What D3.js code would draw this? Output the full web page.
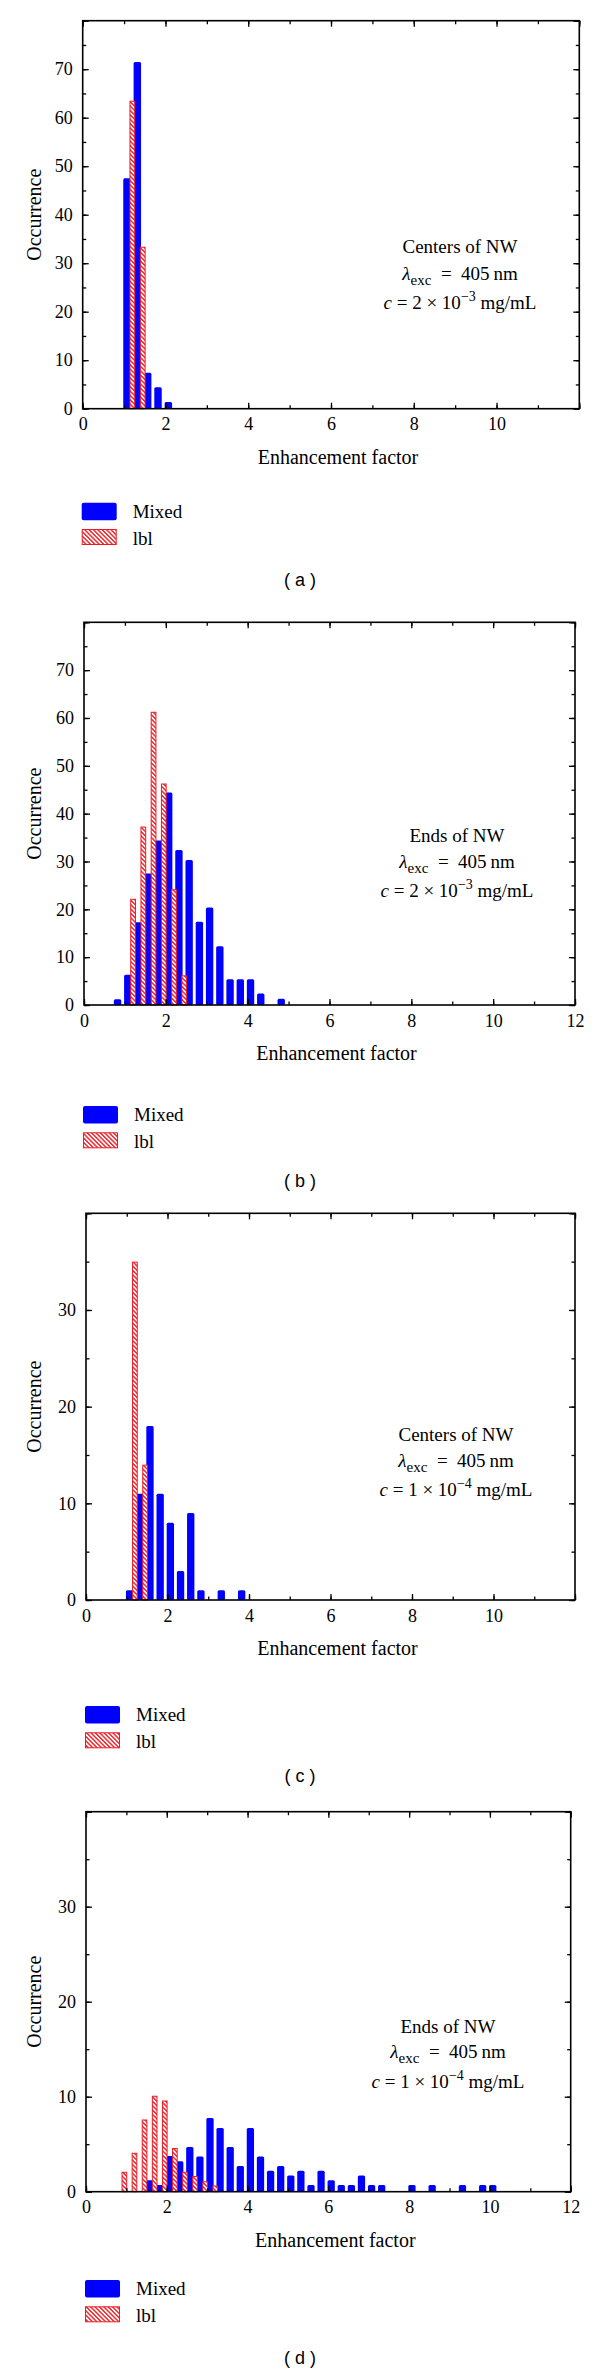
<!DOCTYPE html>
<html>
<head>
<meta charset="utf-8">
<script src="https://cdn.jsdelivr.net/npm/d3@7/dist/d3.min.js"></script>
<style>
  body { margin: 0; background: #fff; }
  svg { display: block; }
</style>
</head>
<body>
<svg id="chart" width="600" height="2379"></svg>
<script>
// bins are the left edge of each 0.25 wide histogram bin
// (a) centers of NW, c = 2e-3 mg/mL
const mixedBinsA = [1.0, 1.25, 1.5, 1.75, 2.0];
const mixedValsA = [47.5, 71.5, 7.4, 4.4, 1.4];
const lblBinsA = [1.0, 1.25];
const lblValsA = [63.5, 33.4];

// (b) ends of NW, c = 2e-3 mg/mL
const mixedBinsB = [0.75, 1.0, 1.25, 1.5, 1.75, 2.0, 2.25, 2.5, 2.75, 3.0, 3.25, 3.5, 3.75, 4.0, 4.25, 4.75];
const mixedValsB = [1.2, 6.3, 17.3, 27.5, 34.4, 44.4, 32.4, 30.3, 17.4, 20.4, 12.3, 5.4, 5.4, 5.4, 2.4, 1.3];
const lblBinsB = [1.0, 1.25, 1.5, 1.75, 2.0, 2.25];
const lblValsB = [22.2, 37.3, 61.3, 46.3, 24.2, 6.2];

// (c) centers of NW, c = 1e-4 mg/mL
const mixedBinsC = [1.0, 1.25, 1.5, 1.75, 2.0, 2.25, 2.5, 2.75, 3.25, 3.75];
const mixedValsC = [1, 11, 18, 11, 8, 3, 9, 1, 1, 1];
const lblBinsC = [1.0, 1.25];
const lblValsC = [35, 14];

// (d) ends of NW, c = 1e-4 mg/mL
const mixedBinsD = [1.5, 1.75, 2.0, 2.25, 2.5, 2.75, 3.0, 3.25, 3.5, 3.75, 4.0, 4.25, 4.5, 4.75, 5.0,
  5.25, 5.5, 5.75, 6.0, 6.25, 6.5, 6.75, 7.0, 7.25, 8.0, 8.5, 9.25, 9.75, 10.0];
const mixedValsD = [1.2, 0.7, 3.75, 3.2, 4.7, 3.7, 7.75, 6.7, 4.7, 2.7, 6.7, 3.7, 2.2, 2.7, 1.7,
  2.2, 0.7, 2.2, 1.2, 0.7, 0.7, 1.7, 0.7, 0.7, 0.7, 0.7, 0.7, 0.7, 0.7];
const lblBinsD = [0.75, 1.0, 1.25, 1.5, 1.75, 2.0, 2.25, 2.5, 2.75, 3.0];
const lblValsD = [2.1, 4.1, 7.6, 10.1, 9.6, 4.6, 2.1, 1.65, 1.1, 0.65];

const xLabelsShort = [0, 2, 4, 6, 8, 10];
const xLabelsLong = [0, 2, 4, 6, 8, 10, 12];
const yLabels80 = [0, 10, 20, 30, 40, 50, 60, 70];
const yLabels40 = [0, 10, 20, 30];

const seriesNames = ['Mixed', 'lbl'];
const titleCenters = 'Centers of NW';
const titleEnds = 'Ends of NW';
const concA = { mant: '2', exp: '\u22123' };
const concB = { mant: '1', exp: '\u22124' };

const blue = '#0000ff';
const red = '#ec1c24';
const serif = '"Liberation Serif", "Times New Roman", serif';

const panels = [
  { tag: 'a', left: 82.7, right: 579.3, top: 20.7, bottom: 408.7, yMax: 80,
    mixedBins: mixedBinsA, mixedVals: mixedValsA, lblBins: lblBinsA, lblVals: lblValsA,
    xLabels: xLabelsShort, yLabels: yLabels80, title: titleCenters, conc: concA,
    textX: 460, textY: [253, 280, 309], legendY: 502.7, tagY: 586 },
  { tag: 'b', left: 84, right: 575, top: 622.3, bottom: 1005, yMax: 80,
    mixedBins: mixedBinsB, mixedVals: mixedValsB, lblBins: lblBinsB, lblVals: lblValsB,
    xLabels: xLabelsLong, yLabels: yLabels80, title: titleEnds, conc: concA,
    textX: 457, textY: [842, 868, 897], legendY: 1106, tagY: 1187 },
  { tag: 'c', left: 86, right: 575, top: 1213.3, bottom: 1600, yMax: 40,
    mixedBins: mixedBinsC, mixedVals: mixedValsC, lblBins: lblBinsC, lblVals: lblValsC,
    xLabels: xLabelsShort, yLabels: yLabels40, title: titleCenters, conc: concB,
    textX: 456, textY: [1441, 1467, 1496], legendY: 1706, tagY: 1782 },
  { tag: 'd', left: 86, right: 570.7, top: 1811.7, bottom: 2191.7, yMax: 40,
    mixedBins: mixedBinsD, mixedVals: mixedValsD, lblBins: lblBinsD, lblVals: lblValsD,
    xLabels: xLabelsLong, yLabels: yLabels40, title: titleEnds, conc: concB,
    textX: 448, textY: [2033, 2058, 2088], legendY: 2280, tagY: 2364 }
];

let svg = d3.select('#chart');

let defs = svg.append('defs');
let hatch = defs.append('pattern')
  .attr('id', 'hatch')
  .attr('patternUnits', 'userSpaceOnUse')
  .attr('width', 3.1)
  .attr('height', 3.1)
  .attr('patternTransform', 'rotate(-45)');
hatch.append('rect').attr('width', 3.1).attr('height', 3.1).attr('fill', '#fff');
hatch.append('line')
  .attr('x1', 1.5).attr('y1', 0).attr('x2', 1.5).attr('y2', 3.1)
  .attr('stroke', red).attr('stroke-width', 1.4);

let styleTicks = (g, labels) => {
  g.select('.domain').remove();
  g.selectAll('.tick line').attr('stroke', '#000').attr('stroke-width', 1.3);
  g.selectAll('text')
    .attr('font-family', serif)
    .attr('font-size', 18)
    .attr('fill', '#000');
  if (!labels) g.selectAll('text').remove();
};

let drawPanel = function (p) {
  let g = svg.append('g');
  let x = d3.scaleLinear().domain([0, 12]).range([p.left, p.right]);
  let y = d3.scaleLinear().domain([0, p.yMax]).range([p.bottom, p.top]);
  let unit = x(1) - x(0);

  let mixed = p.mixedBins.map((e, i) => ({ e: e, v: p.mixedVals[i] }));
  let lbl = p.lblBins.map((e, i) => ({ e: e, v: p.lblVals[i] }));

  g.selectAll('.mixed')
    .data(mixed)
    .enter()
    .append('rect')
      .attr('class', 'mixed')
      .attr('x', d => x(d.e + 0.07) - 0.09 * unit)
      .attr('width', 0.18 * unit)
      .attr('y', d => y(d.v))
      .attr('height', d => y(0) - y(d.v))
      .attr('rx', 1.5)
      .attr('fill', blue);

  g.selectAll('.lbl')
    .data(lbl)
    .enter()
    .append('rect')
      .attr('class', 'lbl')
      .attr('x', d => x(d.e + 0.2) - 0.07 * unit + 0.5)
      .attr('width', 0.14 * unit - 1)
      .attr('y', d => y(d.v) + 0.5)
      .attr('height', d => y(0) - y(d.v) - 0.5)
      .attr('fill', 'url(#hatch)')
      .attr('stroke', red)
      .attr('stroke-width', 1);

  // ticks point inwards on all four sides
  let xMinor = d3.range(0, 13, 1);
  let xMajor = d3.range(0, 13, 2);
  let yMinor = d3.range(0, p.yMax + 1, 5);
  let yMajor = d3.range(0, p.yMax + 1, 10);

  g.append('g').attr('transform', `translate(0,${p.bottom})`)
    .call(d3.axisBottom(x).tickValues(xMinor).tickSize(-3.5).tickFormat(''))
    .call(s => styleTicks(s, false));
  g.append('g').attr('transform', `translate(0,${p.bottom})`)
    .call(d3.axisBottom(x).tickValues(xMajor).tickSize(-6).tickPadding(9)
      .tickFormat(d => p.xLabels.includes(d) ? d : ''))
    .call(s => styleTicks(s, true));
  g.append('g').attr('transform', `translate(0,${p.top})`)
    .call(d3.axisTop(x).tickValues(xMinor).tickSize(-3.5).tickFormat(''))
    .call(s => styleTicks(s, false));
  g.append('g').attr('transform', `translate(0,${p.top})`)
    .call(d3.axisTop(x).tickValues(xMajor).tickSize(-6).tickFormat(''))
    .call(s => styleTicks(s, false));

  g.append('g').attr('transform', `translate(${p.left},0)`)
    .call(d3.axisLeft(y).tickValues(yMinor).tickSize(-3.5).tickFormat(''))
    .call(s => styleTicks(s, false));
  g.append('g').attr('transform', `translate(${p.left},0)`)
    .call(d3.axisLeft(y).tickValues(yMajor).tickSize(-6).tickPadding(10)
      .tickFormat(d => p.yLabels.includes(d) ? d : ''))
    .call(s => styleTicks(s, true));
  g.append('g').attr('transform', `translate(${p.right},0)`)
    .call(d3.axisRight(y).tickValues(yMinor).tickSize(-3.5).tickFormat(''))
    .call(s => styleTicks(s, false));
  g.append('g').attr('transform', `translate(${p.right},0)`)
    .call(d3.axisRight(y).tickValues(yMajor).tickSize(-6).tickFormat(''))
    .call(s => styleTicks(s, false));

  g.append('rect')
    .attr('x', p.left)
    .attr('y', p.top)
    .attr('width', p.right - p.left)
    .attr('height', p.bottom - p.top)
    .attr('fill', 'none')
    .attr('stroke', '#000')
    .attr('stroke-width', 1.6);

  // axis titles
  g.append('text')
    .attr('x', (p.left + p.right) / 2 + 7)
    .attr('y', p.bottom + 55)
    .attr('text-anchor', 'middle')
    .attr('font-family', serif)
    .attr('font-size', 20)
    .text('Enhancement factor');

  g.append('text')
    .attr('transform', `translate(41,${(p.top + p.bottom) / 2}) rotate(-90)`)
    .attr('text-anchor', 'middle')
    .attr('font-family', serif)
    .attr('font-size', 20)
    .text('Occurrence');

  // annotation
  let note = g.append('g')
    .attr('font-family', serif)
    .attr('font-size', 19)
    .attr('text-anchor', 'middle');

  note.append('text')
    .attr('x', p.textX).attr('y', p.textY[0])
    .text(p.title);

  let lam = note.append('text').attr('x', p.textX).attr('y', p.textY[1]);
  lam.append('tspan').attr('font-style', 'italic').text('\u03bb');
  lam.append('tspan').attr('font-size', 15).attr('dy', 5).text('exc');
  lam.append('tspan').attr('dy', -5).text('\u2002=\u2002405\u2009nm');

  let conc = note.append('text').attr('x', p.textX).attr('y', p.textY[2]);
  conc.append('tspan').attr('font-style', 'italic').text('c');
  conc.append('tspan').text(` = ${p.conc.mant} \u00d7 10`);
  conc.append('tspan').attr('font-size', 14).attr('dy', -8).text(p.conc.exp);
  conc.append('tspan').attr('dy', 8).text(' mg/mL');

  // legend
  let lx = p.left - 1;
  g.append('rect')
    .attr('x', lx).attr('y', p.legendY)
    .attr('width', 35).attr('height', 17.5)
    .attr('rx', 2)
    .attr('fill', blue);
  g.append('rect')
    .attr('x', lx + 0.5).attr('y', p.legendY + 26.8)
    .attr('width', 34).attr('height', 15)
    .attr('fill', 'url(#hatch)')
    .attr('stroke', red)
    .attr('stroke-width', 1);

  g.selectAll('.legend-label')
    .data(seriesNames)
    .enter()
    .append('text')
      .attr('x', lx + 51)
      .attr('y', (d, i) => p.legendY + 15 + i * 26.8)
      .attr('font-family', serif)
      .attr('font-size', 19)
      .text(d => d);

  // panel tag
  g.append('text')
    .attr('x', 300)
    .attr('y', p.tagY)
    .attr('text-anchor', 'middle')
    .attr('font-family', '"Liberation Sans", Arial, sans-serif')
    .attr('font-size', 18)
    .style('white-space', 'pre')
    .text(`( ${p.tag} )`);
};

panels.forEach(drawPanel);
</script>
</body>
</html>
